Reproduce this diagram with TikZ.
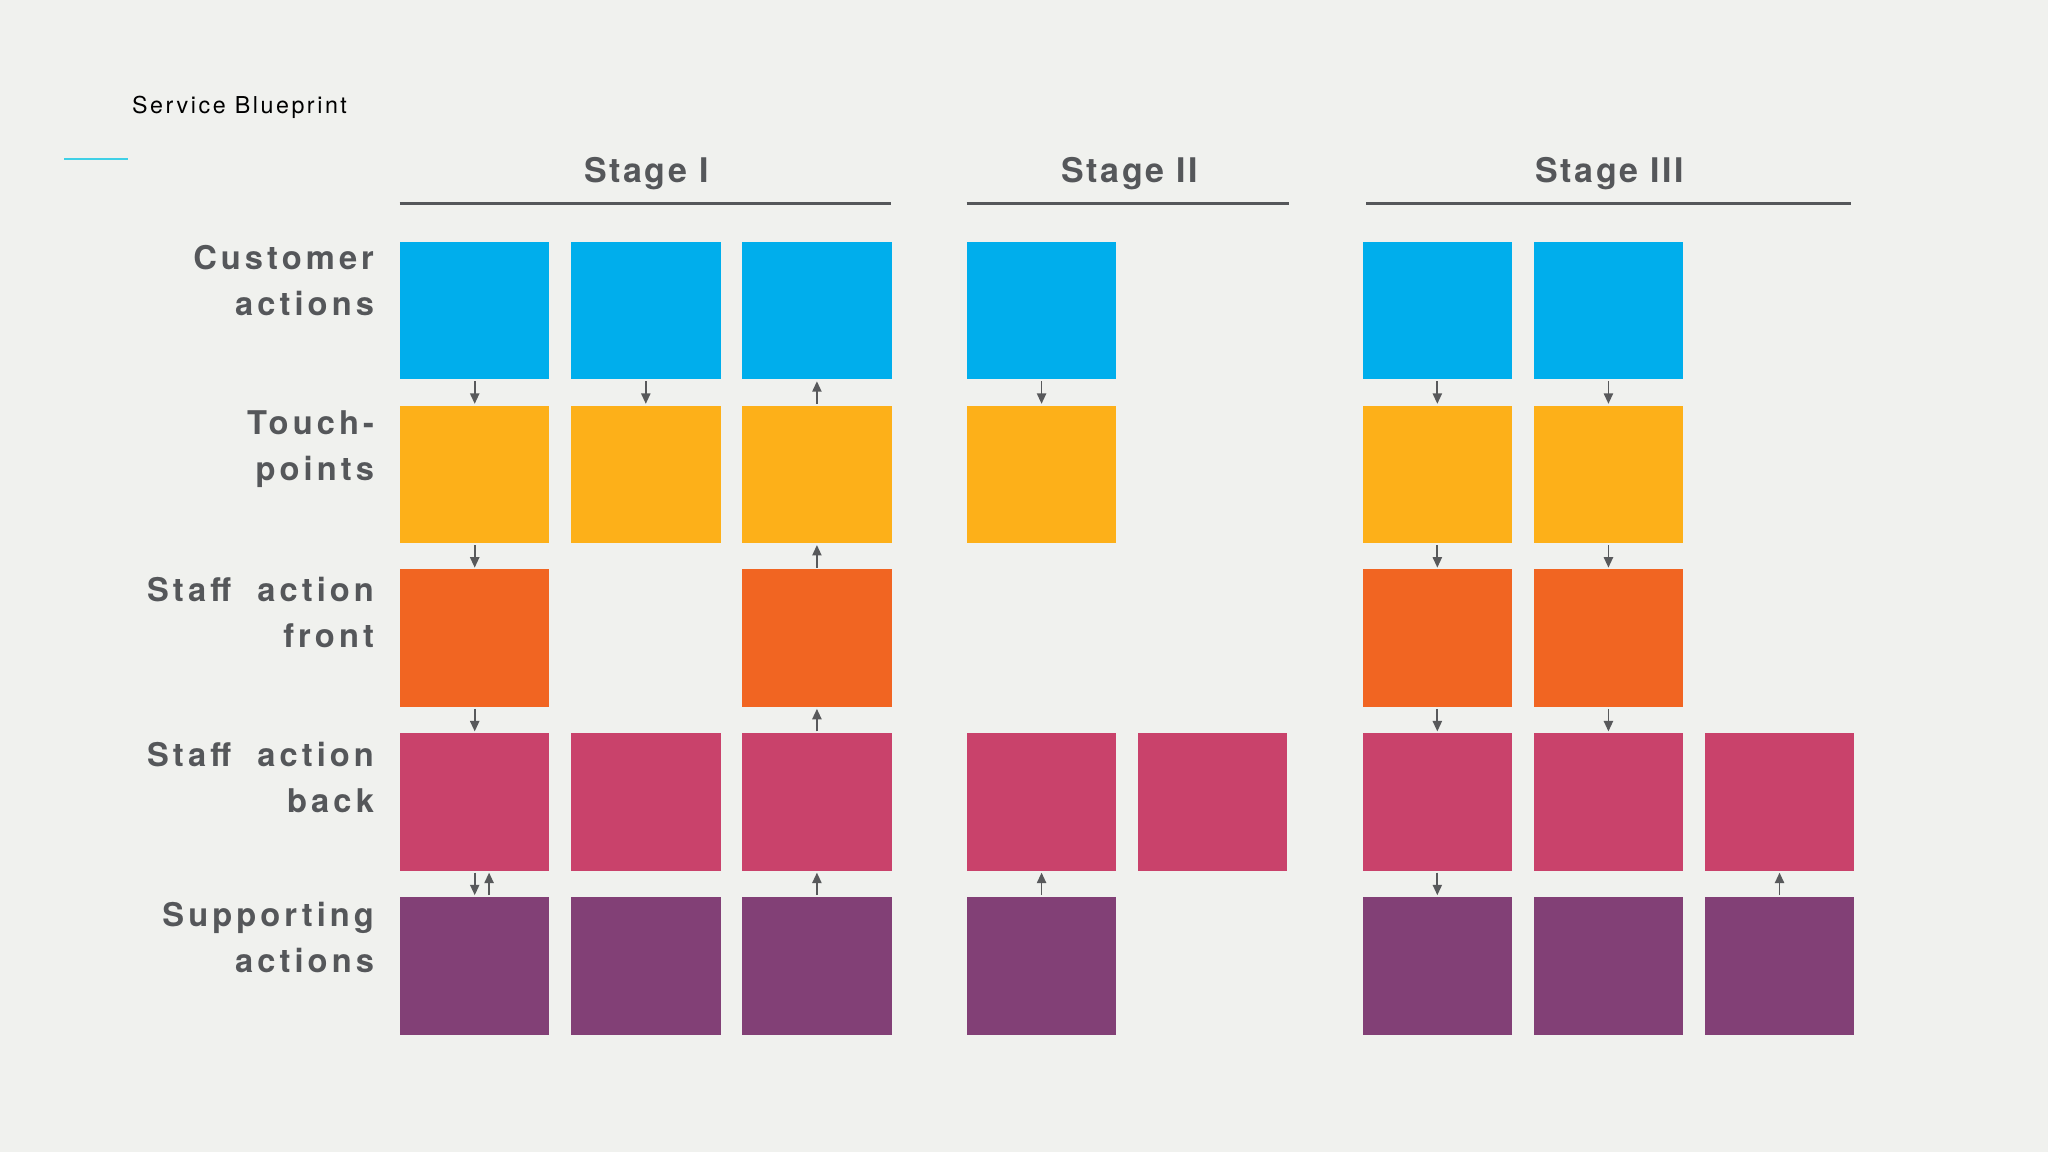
\documentclass[tikz,border=0pt]{standalone}
\usepackage{fontspec}
\setmainfont{TeX Gyre Heros}
\newfontfamily\labelfont[LetterSpace=12.5]{TeX Gyre Heros}
\newfontfamily\stagefont[LetterSpace=7.5]{TeX Gyre Heros}
\newfontfamily\titlefont[LetterSpace=11]{TeX Gyre Heros}
\usetikzlibrary{arrows.meta}
\definecolor{bgcol}{HTML}{F0F1EE}
\definecolor{cblue}{HTML}{00AEEC}
\definecolor{cyellow}{HTML}{FDB019}
\definecolor{corange}{HTML}{F16522}
\definecolor{cpink}{HTML}{C9426B}
\definecolor{cpurple}{HTML}{824076}
\definecolor{tgray}{HTML}{55575A}
\definecolor{agray}{HTML}{58595B}
\definecolor{ccyan}{HTML}{3FD0E6}
\begin{document}
\begin{tikzpicture}[x=1pt,y=-1pt,
  box/.style={rectangle, minimum width=114.5pt, minimum height=105.3pt, inner sep=0pt, anchor=north west, draw=none},
  cust/.style={box, fill=cblue},
  touch/.style={box, fill=cyellow},
  front/.style={box, fill=corange},
  back/.style={box, fill=cpink},
  supp/.style={box, fill=cpurple},
  arr/.style={draw=agray, line width=1.4pt, -{Triangle[width=7pt,length=8pt]}, shorten <=1.2pt, shorten >=1.2pt},
  rowlabel/.style={anchor=base east, align=right, text=tgray, inner sep=0pt,
    font={\labelfont\bfseries\fontsize{25}{35.2}\selectfont}},
  stagelabel/.style={anchor=base, text=tgray, inner sep=0pt,
    font={\stagefont\bfseries\fontsize{26}{30}\selectfont}},
  stageline/.style={draw=tgray, line width=1.8pt},
]
\fill[bgcol] (0,0) rectangle (1568,882);
\useasboundingbox (0,0) rectangle (1568,882);

% title
\node[anchor=base west, inner sep=0pt, font={\titlefont\fontsize{17.8}{20}\selectfont}, text=black] (title) at (101,86.8) {Service Blueprint};
\draw[ccyan, line width=1.5pt] (49,122) -- (98,122);

% stage headers
\node[stagelabel] (s1) at (495,139.9) {Stage I};
\node[stagelabel] (s2) at (865,139.9) {Stage II};
\node[stagelabel] (s3) at (1232.5,139.9) {Stage III};
\draw[stageline] (306,155.7) -- (682,155.7);
\draw[stageline] (740,155.7) -- (987,155.7);
\draw[stageline] (1046,155.7) -- (1417,155.7);

% row labels (anchor = baseline of the last line)
\node[rowlabel] (l1) at (286.5,241.9) {Customer\\actions};
\node[rowlabel] (l2) at (286.5,368.2) {Touch-\\points};
\node[rowlabel] (l3) at (286.5,495.9) {Staff\hspace{10pt} action\\front};
\node[rowlabel] (l4) at (286.5,621.7) {Staff\hspace{10pt} action\\back};
\node[rowlabel] (l5) at (286.5,744.2) {Supporting\\actions};

% row 1: customer actions
\node[cust] (b11) at (306,185) {};
\node[cust] (b12) at (437,185) {};
\node[cust] (b13) at (568,185) {};
\node[cust] (b14) at (740,185) {};
\node[cust] (b16) at (1043,185) {};
\node[cust] (b17) at (1174,185) {};
% row 2: touchpoints
\node[touch] (b21) at (306,310.4) {};
\node[touch] (b22) at (437,310.4) {};
\node[touch] (b23) at (568,310.4) {};
\node[touch] (b24) at (740,310.4) {};
\node[touch] (b26) at (1043,310.4) {};
\node[touch] (b27) at (1174,310.4) {};
% row 3: staff action front
\node[front] (b31) at (306,435.8) {};
\node[front] (b33) at (568,435.8) {};
\node[front] (b36) at (1043,435.8) {};
\node[front] (b37) at (1174,435.8) {};
% row 4: staff action back
\node[back] (b41) at (306,561.2) {};
\node[back] (b42) at (437,561.2) {};
\node[back] (b43) at (568,561.2) {};
\node[back] (b44) at (740,561.2) {};
\node[back] (b45) at (871,561.2) {};
\node[back] (b46) at (1043,561.2) {};
\node[back] (b47) at (1174,561.2) {};
\node[back] (b48) at (1305,561.2) {};
% row 5: supporting actions
\node[supp] (b51) at (306,686.6) {};
\node[supp] (b52) at (437,686.6) {};
\node[supp] (b53) at (568,686.6) {};
\node[supp] (b54) at (740,686.6) {};
\node[supp] (b56) at (1043,686.6) {};
\node[supp] (b57) at (1174,686.6) {};
\node[supp] (b58) at (1305,686.6) {};

% arrows row1-row2
\draw[arr] (b11.south) -- (b21.north);
\draw[arr] (b12.south) -- (b22.north);
\draw[arr] (b23.north) -- (b13.south);
\draw[arr] (b14.south) -- (b24.north);
\draw[arr] (b16.south) -- (b26.north);
\draw[arr] (b17.south) -- (b27.north);
% arrows row2-row3
\draw[arr] (b21.south) -- (b31.north);
\draw[arr] (b33.north) -- (b23.south);
\draw[arr] (b26.south) -- (b36.north);
\draw[arr] (b27.south) -- (b37.north);
% arrows row3-row4
\draw[arr] (b31.south) -- (b41.north);
\draw[arr] (b43.north) -- (b33.south);
\draw[arr] (b36.south) -- (b46.north);
\draw[arr] (b37.south) -- (b47.north);
% arrows row4-row5
\draw[arr] (b41.south) -- (b51.north);
\draw[arr] ([xshift=11pt]b51.north) -- ([xshift=11pt]b41.south);
\draw[arr] (b53.north) -- (b43.south);
\draw[arr] (b54.north) -- (b44.south);
\draw[arr] (b46.south) -- (b56.north);
\draw[arr] (b58.north) -- (b48.south);
\end{tikzpicture}
\end{document}
